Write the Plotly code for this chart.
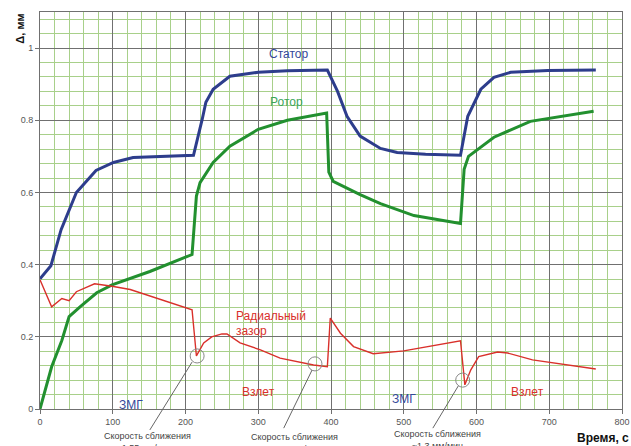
import plotly.graph_objects as go

# Stator (blue)
stator_t = [0, 15, 29, 50, 77, 101, 128, 165, 211, 223, 228, 238, 261, 300, 340, 395, 409, 422, 440, 468, 491, 530, 578, 588, 606, 624, 647, 698, 764]
stator_d = [0.361, 0.397, 0.497, 0.600, 0.661, 0.683, 0.697, 0.700, 0.703, 0.803, 0.850, 0.886, 0.922, 0.933, 0.937, 0.939, 0.880, 0.811, 0.756, 0.722, 0.711, 0.706, 0.703, 0.811, 0.886, 0.919, 0.933, 0.938, 0.939]

# Rotor (green)
rotor_t = [0, 16, 30, 40, 55, 78, 99, 151, 209, 215, 220, 238, 261, 300, 340, 394, 397, 403, 440, 468, 514, 578, 583, 589, 624, 674, 761]
rotor_d = [0.0, 0.117, 0.190, 0.256, 0.283, 0.322, 0.344, 0.381, 0.428, 0.590, 0.627, 0.683, 0.728, 0.775, 0.800, 0.820, 0.656, 0.631, 0.594, 0.569, 0.536, 0.514, 0.664, 0.700, 0.753, 0.797, 0.825]

# Radial gap (red)
gap_t = [0, 16, 30, 40, 50, 75, 99, 124, 209, 215, 225, 236, 250, 257, 275, 303, 330, 376, 395, 399, 413, 431, 458, 500, 578, 584, 592, 603, 629, 643, 677, 764]
gap_d = [0.358, 0.283, 0.306, 0.300, 0.325, 0.347, 0.340, 0.331, 0.275, 0.147, 0.183, 0.200, 0.208, 0.208, 0.183, 0.164, 0.141, 0.122, 0.117, 0.252, 0.210, 0.173, 0.153, 0.161, 0.189, 0.067, 0.108, 0.145, 0.158, 0.155, 0.136, 0.111]

x_tick_step = 100
y_tick_step = 0.2

# approach points (circles) and speed labels
circle_t = [216, 378, 581]
circle_d = [0.147, 0.125, 0.080]
speed_labels = ["Скорость сближения<br>1.55 мм/мин",
                "Скорость сближения<br>0.066 мм/мин",
                "Скорость сближения<br>~1.3 мм/мин"]

BLUE = "#2d3d8c"
GREEN = "#22902f"
RED = "#d9302b"
FONT = "Liberation Sans, Arial, sans-serif"

fig = go.Figure()
fig.add_trace(go.Scatter(x=stator_t, y=stator_d, mode="lines",
                         line=dict(color=BLUE, width=3), hoverinfo="skip"))
fig.add_trace(go.Scatter(x=rotor_t, y=rotor_d, mode="lines",
                         line=dict(color=GREEN, width=3), hoverinfo="skip"))
fig.add_trace(go.Scatter(x=gap_t, y=gap_d, mode="lines",
                         line=dict(color=RED, width=1.4), hoverinfo="skip"))

XR = [0, 800]
YR = [0, 1.1]

def px(x):
    return (x - XR[0]) / (XR[1] - XR[0])

def py(y):
    return (y - YR[0]) / (YR[1] - YR[0])

shapes = []
rx, ry = 9.6, 0.0195
for t, d in zip(circle_t, circle_d):
    shapes.append(dict(type="circle", xref="x", yref="y",
                       x0=t - rx, x1=t + rx, y0=d - ry, y1=d + ry,
                       line=dict(color="#888888", width=1)))
leaders = [((209, 0.130), (151, -0.058)),
           ((374, 0.108), (335, -0.053)),
           ((575, 0.064), (540, -0.053))]
for (a, b) in leaders:
    shapes.append(dict(type="line", xref="paper", yref="paper",
                       x0=px(a[0]), y0=py(a[1]), x1=px(b[0]), y1=py(b[1]),
                       line=dict(color="#666666", width=1)))

annotations = []
label_pos = [(148, -0.056), (350, -0.059), (547, -0.051)]
for (t, d), txt in zip(label_pos, speed_labels):
    annotations.append(dict(x=px(t), y=py(d), xref="paper", yref="paper",
                            text=txt, showarrow=False, xanchor="center", yanchor="top",
                            font=dict(size=9, color="#444444", family=FONT), align="center"))

def lab(x, y, text, color, size=12, xanchor="center"):
    annotations.append(dict(x=x, y=y, xref="x", yref="y", text=text, showarrow=False,
                            xanchor=xanchor, yanchor="middle",
                            font=dict(size=size, color=color, family=FONT)))

lab(342, 0.985, "Статор", "#34479a")
lab(339, 0.85, "Ротор", "#3aa55a")
lab(267, 0.258, "Радиальный", RED, xanchor="left")
lab(267, 0.216, "зазор", RED, xanchor="left")
lab(300, 0.047, "Взлет", RED)
lab(670, 0.047, "Взлет", RED)
lab(125, 0.012, "ЗМГ", "#34479a")
lab(500, 0.028, "ЗМГ", "#34479a")

annotations.append(dict(x=-0.035, y=1.0, xref="paper", yref="paper", text="<b>Δ, мм</b>",
                        showarrow=False, textangle=-90, xanchor="center", yanchor="top",
                        font=dict(size=11, color="#111111", family=FONT)))
annotations.append(dict(x=1.015, y=-0.072, xref="paper", yref="paper", text="<b>Время, с</b>",
                        showarrow=False, xanchor="right", yanchor="middle",
                        font=dict(size=12, color="#111111", family=FONT)))

fig.update_layout(
    width=631, height=446,
    margin=dict(l=40, r=9, t=12, b=37, autoexpand=False),
    paper_bgcolor="white", plot_bgcolor="white",
    showlegend=False,
    shapes=shapes, annotations=annotations,
    font=dict(family=FONT),
    xaxis=dict(range=XR, tickmode="linear", tick0=0, dtick=x_tick_step,
               showgrid=True, gridcolor="#707070", gridwidth=1,
               minor=dict(tickmode="linear", tick0=0, dtick=20, showgrid=True,
                          gridcolor="#a8d08a", gridwidth=1),
               showline=True, linecolor="#707070", mirror=True, zeroline=False,
               ticks="outside", ticklen=4, tickcolor="#707070",
               tickfont=dict(size=9, color="#555555")),
    yaxis=dict(range=YR, tickmode="linear", tick0=0, dtick=y_tick_step,
               showgrid=True, gridcolor="#707070", gridwidth=1,
               minor=dict(tickmode="linear", tick0=0, dtick=0.04, showgrid=True,
                          gridcolor="#a8d08a", gridwidth=1),
               showline=True, linecolor="#707070", mirror=True, zeroline=False,
               ticks="outside", ticklen=4, tickcolor="#707070",
               tickfont=dict(size=9, color="#555555")),
)

fig.write_html("out.html", config={"displayModeBar": False},
               post_script="document.body.style.margin='0';document.body.style.overflow='hidden';")
